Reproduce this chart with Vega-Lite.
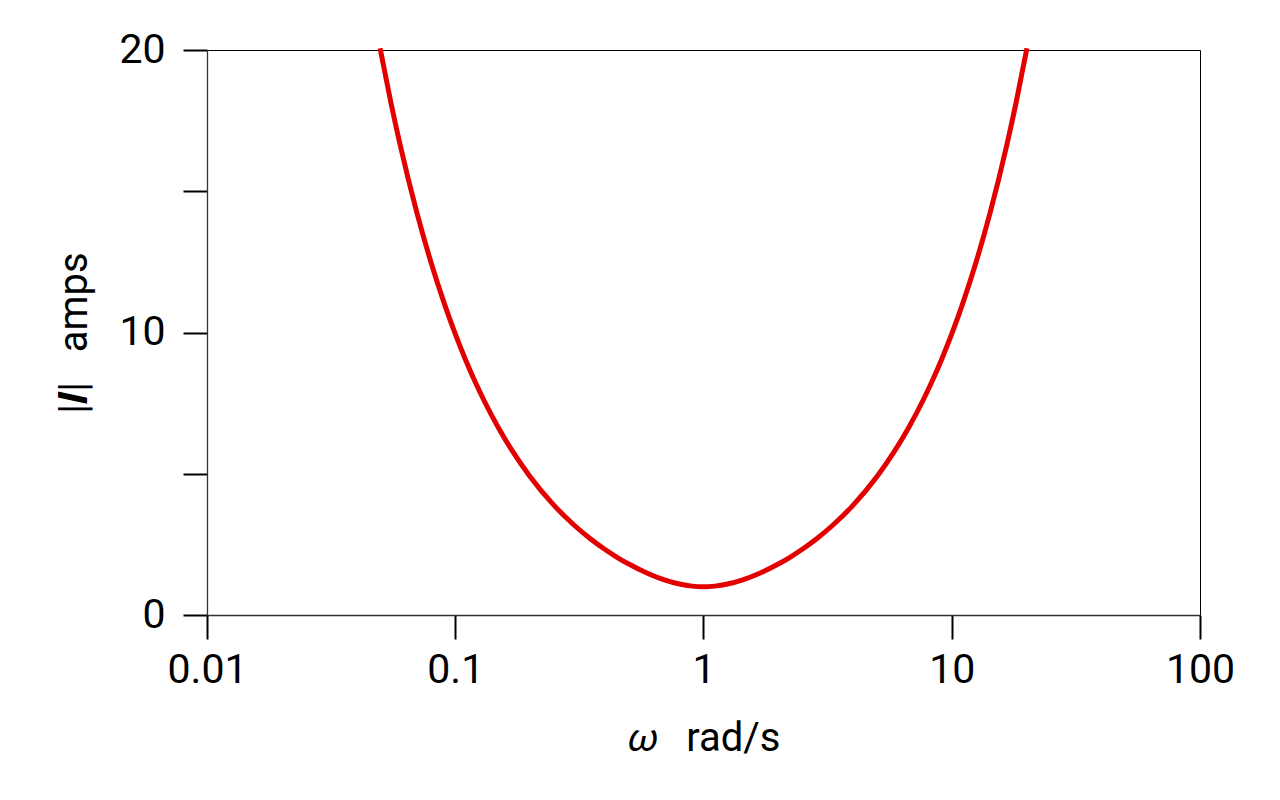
{
  "$schema": "https://vega.github.io/schema/vega-lite/v6.json",
  "width": 993,
  "height": 565,
  "autosize": "none",
  "padding": {"left": 207, "top": 50, "right": 80, "bottom": 185},
  "background": "white",
  "data": {
    "values": [
      {"w": 0.0498, "i": 20.06},
      {"w": 0.055, "i": 18.155},
      {"w": 0.06, "i": 16.637},
      {"w": 0.07, "i": 14.251},
      {"w": 0.08, "i": 12.46},
      {"w": 0.09, "i": 11.067},
      {"w": 0.1, "i": 9.95},
      {"w": 0.11, "i": 9.037},
      {"w": 0.12, "i": 8.274},
      {"w": 0.13, "i": 7.628},
      {"w": 0.15, "i": 6.593},
      {"w": 0.17, "i": 5.799},
      {"w": 0.2, "i": 4.903},
      {"w": 0.25, "i": 3.881},
      {"w": 0.3, "i": 3.194},
      {"w": 0.35, "i": 2.699},
      {"w": 0.4, "i": 2.326},
      {"w": 0.45, "i": 2.035},
      {"w": 0.5, "i": 1.803},
      {"w": 0.6, "i": 1.462},
      {"w": 0.7, "i": 1.237},
      {"w": 0.8, "i": 1.097},
      {"w": 0.9, "i": 1.022},
      {"w": 1, "i": 1},
      {"w": 1.111, "i": 1.022},
      {"w": 1.25, "i": 1.097},
      {"w": 1.429, "i": 1.237},
      {"w": 1.667, "i": 1.462},
      {"w": 2, "i": 1.803},
      {"w": 2.222, "i": 2.035},
      {"w": 2.5, "i": 2.326},
      {"w": 2.857, "i": 2.699},
      {"w": 3.333, "i": 3.194},
      {"w": 4, "i": 3.881},
      {"w": 5, "i": 4.903},
      {"w": 5.882, "i": 5.799},
      {"w": 6.667, "i": 6.593},
      {"w": 7.692, "i": 7.628},
      {"w": 8.333, "i": 8.274},
      {"w": 9.091, "i": 9.037},
      {"w": 10, "i": 9.95},
      {"w": 11.111, "i": 11.067},
      {"w": 12.5, "i": 12.46},
      {"w": 14.286, "i": 14.251},
      {"w": 16.667, "i": 16.637},
      {"w": 18.18, "i": 18.155},
      {"w": 20.08, "i": 20.06}
    ]
  },
  "mark": {"type": "line", "color": "#e30000", "strokeWidth": 5, "interpolate": "monotone", "clip": false},
  "encoding": {
    "x": {
      "field": "w",
      "type": "quantitative",
      "scale": {"type": "log", "domain": [0.01, 100], "nice": false},
      "axis": {
        "title": "𝜔\u00a0\u00a0\u00a0rad/s",
        "values": [0.01, 0.1, 1, 10, 100],
        "labelExpr": "datum.value >= 1 ? format(datum.value, 'd') : format(datum.value, '.2~f')",
        "labelFlush": false,
        "grid": false,
        "tickSize": 24,
        "labelPadding": 11,
        "titlePadding": 28
      }
    },
    "y": {
      "field": "i",
      "type": "quantitative",
      "scale": {"domain": [0, 20], "nice": false},
      "axis": {
        "title": "|𝑰|\u00a0\u00a0\u00a0amps",
        "values": [0, 5, 10, 15, 20],
        "labelExpr": "datum.value % 10 === 0 ? datum.label : ''",
        "labelFlush": false,
        "grid": false,
        "tickSize": 24,
        "labelPadding": 18,
        "titlePadding": 24
      }
    }
  },
  "config": {
    "font": "Roboto",
    "view": {"stroke": "#000", "strokeWidth": 1},
    "axis": {
      "domainColor": "#333",
      "domainWidth": 1.3,
      "tickColor": "#000",
      "tickWidth": 2,
      "labelColor": "#000",
      "labelFontSize": 41,
      "labelFont": "Roboto",
      "titleColor": "#000",
      "titleFontSize": 40,
      "titleFont": "Roboto",
      "titleFontWeight": "normal"
    }
  }
}
